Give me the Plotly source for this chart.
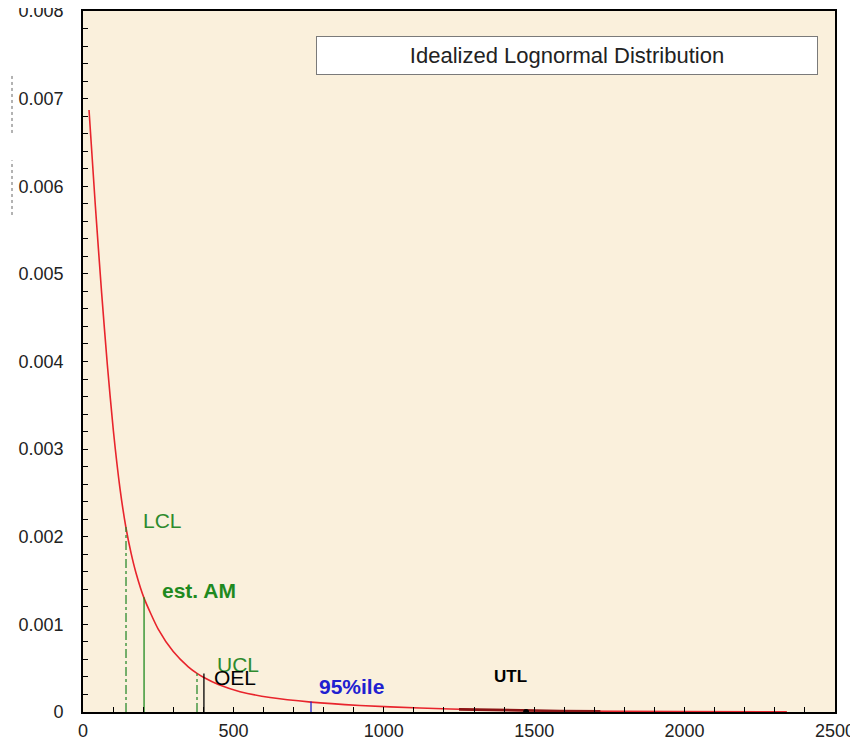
import plotly.graph_objects as go

# Curve (concentration vs. probability density)
curve_x = [20, 41, 62, 81, 101, 123, 143, 160, 176, 203, 250, 300, 350, 379, 402, 450, 522, 622, 758, 921, 1120, 1320, 1586, 1985, 2340]
curve_y = [0.00687, 0.00578, 0.00478, 0.00396, 0.00321, 0.00255, 0.00210, 0.00181, 0.00159, 0.00130, 0.000946,
           0.000690, 0.000516, 0.000441, 0.000393, 0.000313, 0.000232, 0.000165, 0.000113, 0.000075, 0.000045,
           0.000025, 0.000012, 0.000004, 0.000002]

# Darker stretch of the curve where it lies on the axis
dark_x = [1250, 1320, 1586, 1720]
dark_y = [0.00003, 0.000025, 0.000012, 0.000008]

# Statistic markers
marker_names = ["LCL", "est. AM", "UCL", "OEL", "95%ile", "UTL"]
marker_x = [143, 203, 379, 402, 758, 1473]
marker_top = [0.00211, 0.00131, 0.00044, 0.00044, 0.00012, 0.000004]
marker_colors = ["#2e8b2e", "#1f8a1f", "#2e8b2e", "#000000", "#2020d0", "#000000"]
marker_dash = ["dashdot", "solid", "dashdot", "solid", "solid", "solid"]

# Label positions (data coordinates, left anchored)
label_x = [193, 256, 438, 429, 778, 1359]
label_y = [0.00218, 0.00139, 0.00054, 0.00039, 0.00029, 0.00040]
label_bold = [False, True, False, False, True, True]
label_size = [21, 21, 21, 21, 21, 17]
label_colors = ["#2e8b2e", "#1f8a1f", "#2e8b2e", "#000000", "#2020d0", "#000000"]

x_ticks = [0, 500, 1000, 1500, 2000, 2500]
y_ticks = [0, 0.001, 0.002, 0.003, 0.004, 0.005, 0.006, 0.007, 0.008]
title_text = "Idealized Lognormal Distribution"

FONT = "Liberation Sans, Arial, sans-serif"

fig = go.Figure()

fig.add_trace(go.Scatter(x=curve_x, y=curve_y, mode="lines",
                         line=dict(color="#e8242c", width=1.6, shape="spline", smoothing=0.6),
                         hoverinfo="skip", showlegend=False))
fig.add_trace(go.Scatter(x=dark_x, y=dark_y, mode="lines",
                         line=dict(color="#8b1414", width=2.6),
                         hoverinfo="skip", showlegend=False))

for i, name in enumerate(marker_names):
    fig.add_trace(go.Scatter(x=[marker_x[i], marker_x[i]], y=[0, marker_top[i]], mode="lines",
                             line=dict(color=marker_colors[i], width=1.3, dash=marker_dash[i]),
                             showlegend=False, hoverinfo="skip"))

fig.add_trace(go.Scatter(x=[marker_x[5]], y=[0], mode="markers",
                         marker=dict(color="#000000", size=6), showlegend=False, hoverinfo="skip"))

for i, name in enumerate(marker_names):
    txt = f"<b>{name}</b>" if label_bold[i] else name
    fig.add_annotation(x=label_x[i], y=label_y[i], text=txt, showarrow=False,
                       xanchor="left", yanchor="middle",
                       font=dict(family=FONT, size=label_size[i], color=label_colors[i]))

fig.add_annotation(xref="paper", yref="paper", x=0.6436, y=0.9365, text=title_text,
                   showarrow=False, xanchor="center", yanchor="middle",
                   width=498, height=35, bgcolor="#ffffff", bordercolor="#7a7a7a",
                   borderwidth=1, borderpad=1,
                   font=dict(family=FONT, size=22, color="#222222"))

# faint dotted marks left of the y labels seen in the reference
for (y0, y1) in [(0.826, 0.909), (0.709, 0.787)]:
    fig.add_shape(type="line", xref="paper", yref="paper", x0=-0.0944, x1=-0.0944, y0=y0, y1=y1,
                  line=dict(color="#666666", width=1, dash="dot"))

axis_font = dict(family=FONT, size=18, color="#222222")

fig.update_xaxes(range=[0, 2500], tickvals=x_ticks, ticktext=[str(v) for v in x_ticks],
                 ticks="inside", ticklen=5, tickcolor="#000000", tickwidth=1.2,
                 minor=dict(dtick=100, ticks="inside", ticklen=5, tickcolor="#000000", tickwidth=1.2, showgrid=False),
                 showgrid=False, zeroline=False, showline=True, linecolor="#000000", linewidth=1.6,
                 mirror=True, tickfont=axis_font, ticklabelstandoff=2, ticklabeloverflow="allow")
fig.update_yaxes(range=[0, 0.008], tickvals=y_ticks, ticktext=["0"] + [f"{v:.3f}" for v in y_ticks[1:]],
                 ticks="inside", ticklen=5, tickcolor="#000000", tickwidth=1.2,
                 minor=dict(dtick=0.0002, ticks="inside", ticklen=5, tickcolor="#000000", tickwidth=1.2, showgrid=False),
                 showgrid=False, zeroline=False, showline=True, linecolor="#000000", linewidth=1.6,
                 mirror=True, tickfont=axis_font, ticklabelstandoff=14, ticklabeloverflow="allow")

fig.update_layout(width=850, height=736,
                  margin=dict(l=75, r=23, t=3, b=32, autoexpand=False),
                  paper_bgcolor="#ffffff", plot_bgcolor="#faf0dc",
                  showlegend=False)

fig.write_html("out.html")
